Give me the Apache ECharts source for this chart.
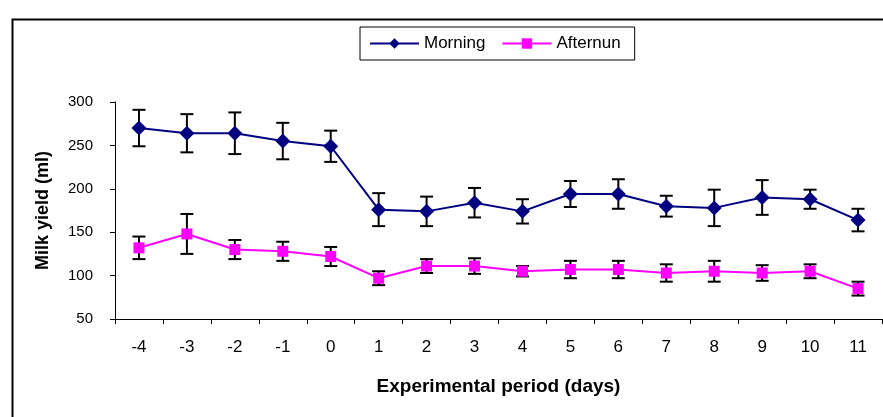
<!DOCTYPE html>
<html>
<head>
<meta charset="utf-8">
<script src="https://cdn.jsdelivr.net/npm/echarts@6/dist/echarts.min.js"></script>
<style>
html,body{margin:0;padding:0;background:#fff;}
#chart{width:883px;height:417px;}
</style>
</head>
<body>
<div id="chart"></div>
<script>
var categories = ['-4','-3','-2','-1','0','1','2','3','4','5','6','7','8','9','10','11'];
var morning    = [270, 264, 264, 255, 249, 176, 174, 184, 174, 194, 194, 180, 178, 190, 188, 164];
var morningErr = [21, 22, 24, 21, 18, 19, 17, 17, 14, 15, 17, 12, 21, 20, 11, 13];
var afternoon    = [132, 148, 130, 128, 122, 97, 111, 111, 105, 107, 107, 103, 105, 103, 105, 85];
var afternoonErr = [13, 23, 11, 11, 11, 8, 8, 9, 6, 10, 10, 10, 12, 9, 8, 8];
var yTicks = [50, 100, 150, 200, 250, 300];

function errData(vals, errs) {
  return vals.map(function (v, i) { return [i, v - errs[i], v + errs[i]]; });
}
function renderErr(params, api) {
  var x = api.value(0);
  var lo = api.coord([x, api.value(1)]);
  var hi = api.coord([x, api.value(2)]);
  var hw = 6.5;
  var st = { stroke: '#000', lineWidth: 2 };
  return {
    type: 'group',
    children: [
      { type: 'line', shape: { x1: hi[0], y1: hi[1], x2: lo[0], y2: lo[1] }, style: st },
      { type: 'line', shape: { x1: hi[0] - hw, y1: hi[1], x2: hi[0] + hw, y2: hi[1] }, style: st },
      { type: 'line', shape: { x1: lo[0] - hw, y1: lo[1], x2: lo[0] + hw, y2: lo[1] }, style: st }
    ]
  };
}

var chart = echarts.init(document.getElementById('chart'), null, { renderer: 'canvas' });
chart.setOption({
  animation: false,
  backgroundColor: '#fff',
  textStyle: { fontFamily: 'Liberation Sans, Arial, sans-serif', color: '#000' },
  graphic: [{
    type: 'rect', left: 10, top: 17, z: -10,
    shape: { x: 0, y: 0, width: 900, height: 460 },
    style: { fill: 'none', stroke: '#000', lineWidth: 2 }
  }],
  legend: {
    left: 360, top: 27,
    padding: [8, 14, 8, 9],
    borderColor: '#000', borderWidth: 1,
    itemWidth: 49, itemHeight: 13, itemGap: 16,
    textStyle: { fontSize: 17, color: '#000', fontFamily: 'Liberation Sans, Arial, sans-serif' },
    data: ['Morning', 'Afternun']
  },
  grid: { left: 115, right: 1, top: 102, bottom: 98 },
  xAxis: {
    type: 'category',
    data: categories,
    boundaryGap: true,
    name: 'Experimental period (days)',
    nameLocation: 'middle',
    nameGap: 58,
    nameTextStyle: { fontSize: 19, fontWeight: 'bold', color: '#000' },
    axisLine: { lineStyle: { color: '#000', width: 1 } },
    axisTick: { show: true, length: 5, lineStyle: { color: '#000' } },
    axisLabel: { margin: 20, fontSize: 17, color: '#000' },
    splitLine: { show: false }
  },
  yAxis: {
    type: 'value',
    min: yTicks[0], max: yTicks[yTicks.length - 1], interval: 50,
    name: 'Milk yield (ml)',
    nameLocation: 'middle',
    nameGap: 63,
    nameTextStyle: { fontSize: 18, fontWeight: 'bold', color: '#000' },
    axisLine: { show: true, lineStyle: { color: '#000', width: 1 } },
    axisTick: { show: true, length: 5, lineStyle: { color: '#000' } },
    axisLabel: { margin: 22, fontSize: 15, color: '#000' },
    splitLine: { show: false }
  },
  series: [
    {
      type: 'custom', name: 'errM', renderItem: renderErr,
      data: errData(morning, morningErr), encode: { x: 0, y: [1, 2] }, z: 1, silent: true
    },
    {
      type: 'custom', name: 'errA', renderItem: renderErr,
      data: errData(afternoon, afternoonErr), encode: { x: 0, y: [1, 2] }, z: 1, silent: true
    },
    {
      type: 'line', name: 'Morning', data: morning, z: 3,
      symbol: 'diamond', symbolSize: 15,
      lineStyle: { color: '#000080', width: 2 },
      itemStyle: { color: '#000080' }
    },
    {
      type: 'line', name: 'Afternun', data: afternoon, z: 3,
      symbol: 'rect', symbolSize: 11,
      lineStyle: { color: '#FF00FF', width: 2 },
      itemStyle: { color: '#FF00FF' }
    }
  ]
});
</script>
</body>
</html>
